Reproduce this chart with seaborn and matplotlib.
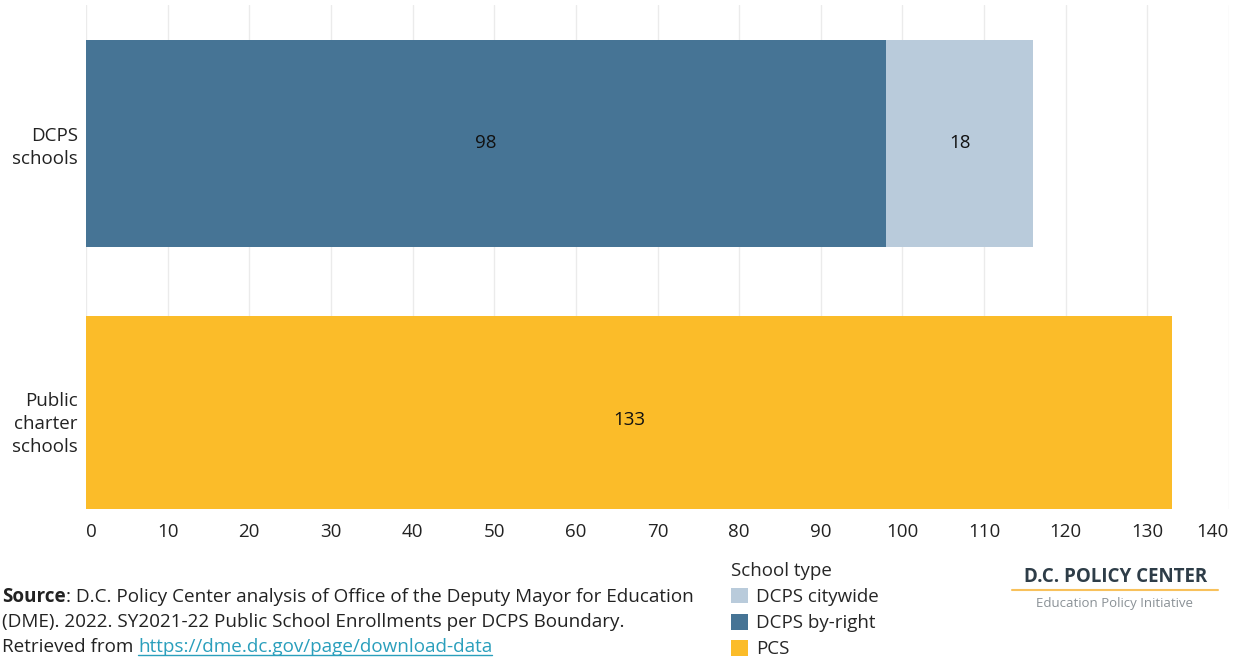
import matplotlib
matplotlib.use("Agg")
import matplotlib.pyplot as plt
import seaborn as sns
import pandas as pd
from matplotlib.lines import Line2D
from matplotlib.patches import Patch

# Data
categories = ["DCPS\nschools", "Public\ncharter\nschools"]
school_types = ["DCPS citywide", "DCPS by-right", "PCS"]
by_right = [98, 0]
citywide = [18, 0]
pcs = [0, 133]
x_ticks = list(range(0, 141, 10))

colors = {"DCPS citywide": "#b9cbdb", "DCPS by-right": "#467495", "PCS": "#fbbc29"}

sns.set_theme(style="white")
plt.rcParams["font.family"] = ["Open Sans", "DejaVu Sans"]

fig = plt.figure(figsize=(12.33, 6.58), dpi=100)
W, H = 1233, 658
ax = fig.add_axes([86 / W, (H - 509) / H, (1229 - 86) / W, (509 - 5) / H])

# Back layer: cumulative totals (citywide stacked after by-right, and PCS)
back = pd.DataFrame({
    "category": [categories[0], categories[1]],
    "type": ["DCPS citywide", "PCS"],
    "value": [by_right[0] + citywide[0], pcs[1]],
})
front = pd.DataFrame({
    "category": [categories[0]],
    "type": ["DCPS by-right"],
    "value": [by_right[0]],
})
sns.barplot(data=back, x="value", y="category", hue="type", order=categories,
            palette=colors, dodge=False, width=0.75, ax=ax, legend=False,
            saturation=1, linewidth=0, zorder=2)
sns.barplot(data=front, x="value", y="category", hue="type", order=categories,
            palette=colors, dodge=False, width=0.75, ax=ax, legend=False,
            saturation=1, linewidth=0, zorder=3)

FS = 13.5

# Value labels at segment centres
lab_kw = dict(ha="center", va="center", fontsize=FS, color="#111111", zorder=5)
ax.text(by_right[0] / 2, 0, f"{by_right[0]}", **lab_kw)
ax.text(by_right[0] + citywide[0] / 2, 0, f"{citywide[0]}", **lab_kw)
ax.text(pcs[1] / 2, 1, f"{pcs[1]}", **lab_kw)

ax.set_xlim(0, 140)
ax.set_ylim(1.322, -0.5)
ax.set_xticks(x_ticks)
ax.set_xticklabels([str(t) for t in x_ticks])
ax.set_xlabel("")
ax.set_ylabel("")
for s in ax.spines.values():
    s.set_visible(False)
ax.grid(axis="x", color="#ebebeb", linewidth=1, zorder=0)
ax.set_axisbelow(True)
ax.tick_params(axis="x", length=0, pad=10, labelsize=FS, labelcolor="#222222")
ax.tick_params(axis="y", length=0, pad=6, labelsize=FS, labelcolor="#222222")
for lbl in ax.get_yticklabels():
    lbl.set_multialignment("right")
    lbl.set_linespacing(1.35)
xl = ax.get_xticklabels()
xl[0].set_ha("left")
xl[-1].set_ha("right")

# Source note
fig.canvas.draw()
renderer = fig.canvas.get_renderer()
SFS = 13.6
src_kw = dict(fontsize=SFS, color="#222222", va="center")
y1, y2, y3 = 1 - 597 / H, 1 - 622 / H, 1 - 647 / H
x0 = 2 / W
t_bold = fig.text(x0, y1, "Source", fontweight="bold", **src_kw)
bb = t_bold.get_window_extent(renderer)
fig.text(bb.x1 / W, y1, ": D.C. Policy Center analysis of Office of the Deputy Mayor for Education", **src_kw)
fig.text(x0, y2, "(DME). 2022. SY2021-22 Public School Enrollments per DCPS Boundary.", **src_kw)
t_ret = fig.text(x0, y3, "Retrieved from ", **src_kw)
bb = t_ret.get_window_extent(renderer)
t_link = fig.text(bb.x1 / W, y3, "https://dme.dc.gov/page/download-data",
                  fontsize=SFS, color="#2a9fbc", va="center")
lb = t_link.get_window_extent(renderer)
fig.add_artist(Line2D([lb.x0 / W, lb.x1 / W], [(lb.y0 + 1) / H] * 2,
                      color="#2a9fbc", linewidth=1, transform=fig.transFigure))

# Legend
handles = [Patch(facecolor=colors[t], edgecolor="none", label=t) for t in school_types]
leg = fig.legend(handles=handles, title="School type", loc="upper left",
                 bbox_to_anchor=(731 / W, 1 - 562 / H), frameon=False,
                 fontsize=FS, title_fontsize=FS, handlelength=0.9, handleheight=0.9,
                 handletextpad=0.45, labelspacing=0.42, borderaxespad=0, borderpad=0)
leg._legend_box.align = "left"

# Organisation mark
fig.text(1116 / W, 1 - 577 / H, "D.C. POLICY CENTER", ha="center", va="center",
         fontsize=13.5, fontweight="bold", color="#2e3d48")
fig.add_artist(Line2D([1012 / W, 1218 / W], [1 - 590 / H] * 2, color="#f8c15c",
                      linewidth=1.5, transform=fig.transFigure))
fig.text(1115 / W, 1 - 603 / H, "Education Policy Initiative", ha="center", va="center",
         fontsize=9.5, color="#8a9196")

fig.savefig("out.png", dpi=100)
